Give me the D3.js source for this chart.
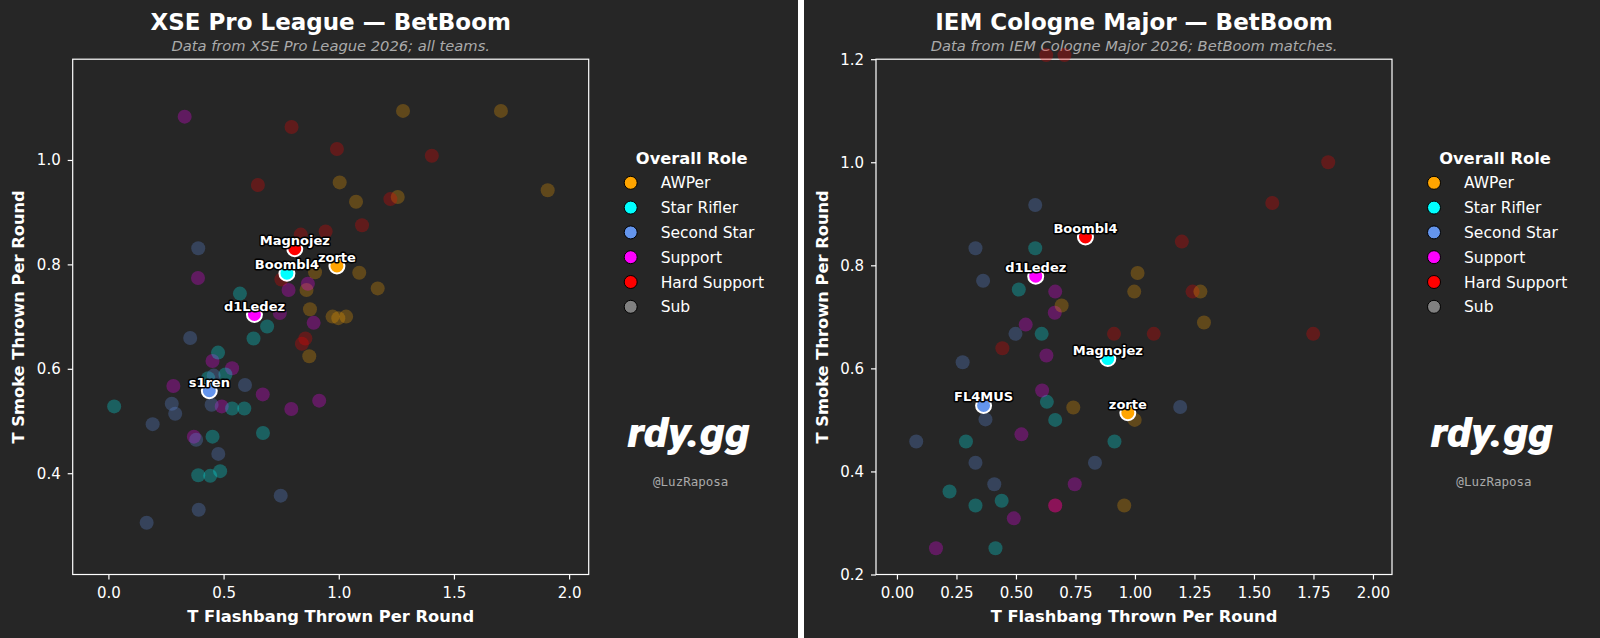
<!DOCTYPE html>
<html>
<head>
<meta charset="utf-8">
<script src="https://cdn.jsdelivr.net/npm/d3@7"></script>
<style>
  html, body { margin: 0; padding: 0; background: #262626; }
  svg { display: block; font-family: "DejaVu Sans", sans-serif; }
</style>
</head>
<body>
<svg id="chart" width="1600" height="638"></svg>
<script>
// Role legend
const roles = ['AWPer', 'Star Rifler', 'Second Star', 'Support', 'Hard Support', 'Sub'];
const roleColors = ['#FFA500', '#00FFFF', '#6495ED', '#FF00FF', '#FF0000', '#808080'];

// XSE Pro League - all players [role, flashbangs, smokes]
const xsePlayers = [
    ['AWPer', 1.279, 1.094], ['AWPer', 1.704, 1.094], ['AWPer', 1.004, 0.957], ['AWPer', 1.075, 0.920],
    ['AWPer', 1.256, 0.929], ['AWPer', 1.907, 0.942], ['AWPer', 0.897, 0.785], ['AWPer', 1.089, 0.784],
    ['AWPer', 0.860, 0.751], ['AWPer', 1.169, 0.754], ['AWPer', 0.875, 0.714], ['AWPer', 0.973, 0.700],
    ['AWPer', 0.998, 0.697], ['AWPer', 1.032, 0.700], ['AWPer', 0.872, 0.624],
    ['Hard Support', 0.795, 1.063], ['Hard Support', 0.992, 1.021], ['Hard Support', 1.404, 1.008],
    ['Hard Support', 0.649, 0.952], ['Hard Support', 1.224, 0.925], ['Hard Support', 1.101, 0.875],
    ['Hard Support', 0.943, 0.863], ['Hard Support', 0.835, 0.857], ['Hard Support', 0.751, 0.771],
    ['Hard Support', 0.840, 0.648], ['Hard Support', 0.855, 0.658],
    ['Support', 0.331, 1.083], ['Support', 0.389, 0.774], ['Support', 0.866, 0.763], ['Support', 0.782, 0.751],
    ['Support', 0.744, 0.707], ['Support', 0.891, 0.688], ['Support', 0.452, 0.615], ['Support', 0.537, 0.601],
    ['Support', 0.282, 0.567], ['Support', 0.670, 0.551], ['Support', 0.915, 0.539], ['Support', 0.794, 0.523],
    ['Support', 0.492, 0.528], ['Support', 0.371, 0.470],
    ['Star Rifler', 0.571, 0.744], ['Star Rifler', 0.689, 0.681], ['Star Rifler', 0.630, 0.658],
    ['Star Rifler', 0.476, 0.631], ['Star Rifler', 0.508, 0.589], ['Star Rifler', 0.433, 0.582],
    ['Star Rifler', 0.025, 0.528], ['Star Rifler', 0.537, 0.524], ['Star Rifler', 0.590, 0.524],
    ['Star Rifler', 0.452, 0.470], ['Star Rifler', 0.671, 0.477], ['Star Rifler', 0.390, 0.396],
    ['Star Rifler', 0.442, 0.395], ['Star Rifler', 0.485, 0.404],
    ['Second Star', 0.390, 0.831], ['Second Star', 0.355, 0.659], ['Second Star', 0.457, 0.587],
    ['Second Star', 0.593, 0.569], ['Second Star', 0.275, 0.533], ['Second Star', 0.290, 0.514],
    ['Second Star', 0.448, 0.531], ['Second Star', 0.192, 0.494], ['Second Star', 0.381, 0.464],
    ['Second Star', 0.477, 0.437], ['Second Star', 0.748, 0.357], ['Second Star', 0.392, 0.330],
    ['Second Star', 0.166, 0.305]
];

// XSE Pro League - BetBoom players [name, role, flashbangs, smokes]
const xseBetBoom = [
    ['Magnojez', 'Hard Support', 0.809, 0.830],
    ['Boombl4', 'Star Rifler', 0.775, 0.783],
    ['zorte', 'AWPer', 0.992, 0.797],
    ['d1Ledez', 'Support', 0.634, 0.704],
    ['s1ren', 'Second Star', 0.438, 0.558]
];

// IEM Cologne Major - players in BetBoom matches
const iemPlayers = [
    ['Hard Support', 0.627, 1.208], ['Hard Support', 0.704, 1.208], ['Hard Support', 1.577, 0.921],
    ['Hard Support', 1.812, 1.000], ['Hard Support', 1.197, 0.846], ['Hard Support', 1.242, 0.749],
    ['Hard Support', 0.912, 0.667], ['Hard Support', 1.079, 0.667], ['Hard Support', 1.749, 0.667],
    ['Hard Support', 0.443, 0.639], ['Hard Support', 0.665, 0.334],
    ['Second Star', 0.581, 0.917], ['Second Star', 0.330, 0.833], ['Second Star', 0.362, 0.770],
    ['Second Star', 0.498, 0.667], ['Second Star', 0.276, 0.612], ['Second Star', 1.190, 0.525],
    ['Second Star', 0.372, 0.501], ['Second Star', 0.081, 0.458], ['Second Star', 0.330, 0.417],
    ['Second Star', 0.832, 0.417], ['Second Star', 0.409, 0.375],
    ['Star Rifler', 0.581, 0.833], ['Star Rifler', 0.512, 0.753], ['Star Rifler', 0.608, 0.667],
    ['Star Rifler', 0.630, 0.535], ['Star Rifler', 0.665, 0.500], ['Star Rifler', 0.290, 0.458],
    ['Star Rifler', 0.914, 0.458], ['Star Rifler', 0.221, 0.361], ['Star Rifler', 0.330, 0.334],
    ['Star Rifler', 0.440, 0.343], ['Star Rifler', 0.414, 0.251],
    ['Support', 0.665, 0.749], ['Support', 0.663, 0.708], ['Support', 0.541, 0.685], ['Support', 0.628, 0.625],
    ['Support', 0.610, 0.557], ['Support', 0.523, 0.472], ['Support', 0.747, 0.375], ['Support', 0.491, 0.309],
    ['Support', 0.164, 0.251], ['Support', 0.665, 0.334],
    ['AWPer', 1.011, 0.785], ['AWPer', 0.997, 0.749], ['AWPer', 1.275, 0.749], ['AWPer', 0.692, 0.722],
    ['AWPer', 1.290, 0.689], ['AWPer', 0.741, 0.524], ['AWPer', 0.999, 0.500], ['AWPer', 0.955, 0.334]
];

const iemBetBoom = [
    ['Boombl4', 'Hard Support', 0.792, 0.855],
    ['d1Ledez', 'Support', 0.583, 0.779],
    ['Magnojez', 'Star Rifler', 0.886, 0.619],
    ['FL4MUS', 'Second Star', 0.364, 0.528],
    ['zorte', 'AWPer', 0.970, 0.514]
];

// Axis ticks
const xseXTicks = [0, 0.5, 1.0, 1.5, 2.0];
const xseYTicks = [0.4, 0.6, 0.8, 1.0];
const iemXTicks = [0, 0.25, 0.5, 0.75, 1.0, 1.25, 1.5, 1.75, 2.0];
const iemYTicks = [0.2, 0.4, 0.6, 0.8, 1.0, 1.2];

const color = d3.scaleOrdinal().domain(roles).range(roleColors);
const svg = d3.select('#chart');

svg.append('rect')
    .attr('width', 1600)
    .attr('height', 638)
    .attr('fill', '#262626');

const plotTop = 59.2;
const plotBottom = 574.5;

function drawPanel(opts) {
    const g = svg.append('g');
    const x = d3.scaleLinear().domain(opts.xDomain).range([opts.left, opts.left + 516]);
    const y = d3.scaleLinear().domain(opts.yDomain).range([plotBottom, plotTop]);
    const cx = opts.left + 258;

    // Titles
    g.append('text')
        .attr('x', cx).attr('y', 29.5)
        .attr('text-anchor', 'middle')
        .attr('font-size', '23px').attr('font-weight', 'bold')
        .attr('fill', 'white')
        .text(opts.title);

    g.append('text')
        .attr('x', cx).attr('y', 50.5)
        .attr('text-anchor', 'middle')
        .attr('font-size', '14.7px').attr('font-style', 'italic')
        .attr('fill', '#aaaaaa')
        .text(opts.subtitle);

    // Axes
    const xAxis = g.append('g')
        .attr('transform', `translate(0, ${plotBottom})`)
        .call(d3.axisBottom(x).tickValues(opts.xTicks).tickFormat(d3.format(opts.xFormat))
            .tickSize(5).tickPadding(8));

    const yAxis = g.append('g')
        .attr('transform', `translate(${opts.left}, 0)`)
        .call(d3.axisLeft(y).tickValues(opts.yTicks).tickFormat(d3.format('.1f'))
            .tickSize(5).tickPadding(7));

    [xAxis, yAxis].forEach(a => {
        a.select('.domain').remove();
        a.selectAll('line').attr('stroke', 'white').attr('stroke-width', 1.2);
        a.selectAll('text').attr('fill', 'white').attr('font-size', '15px')
            .attr('font-family', '"DejaVu Sans", sans-serif');
    });

    g.append('rect')
        .attr('x', opts.left).attr('y', plotTop)
        .attr('width', 516).attr('height', plotBottom - plotTop)
        .attr('fill', 'none')
        .attr('stroke', 'white')
        .attr('stroke-width', 1.2);

    // Axis labels
    g.append('text')
        .attr('x', cx).attr('y', 622)
        .attr('text-anchor', 'middle')
        .attr('font-size', '16.3px').attr('font-weight', 'bold')
        .attr('fill', 'white')
        .text('T Flashbang Thrown Per Round');

    g.append('text')
        .attr('transform', `translate(${opts.left - 48.5}, ${(plotTop + plotBottom) / 2}) rotate(-90)`)
        .attr('text-anchor', 'middle')
        .attr('font-size', '16.3px').attr('font-weight', 'bold')
        .attr('fill', 'white')
        .text('T Smoke Thrown Per Round');

    // All players, faded
    g.append('g').selectAll('circle')
        .data(opts.players)
        .enter()
        .append('circle')
        .attr('cx', d => x(d[1]))
        .attr('cy', d => y(d[2]))
        .attr('r', 7)
        .attr('fill', d => color(d[0]))
        .attr('fill-opacity', 0.27);

    // BetBoom players
    g.append('g').selectAll('circle')
        .data(opts.team)
        .enter()
        .append('circle')
        .attr('cx', d => x(d[2]))
        .attr('cy', d => y(d[3]))
        .attr('r', 7.5)
        .attr('fill', d => color(d[1]))
        .attr('stroke', 'white')
        .attr('stroke-width', 2);

    g.append('g').selectAll('text')
        .data(opts.team)
        .enter()
        .append('text')
        .attr('x', d => x(d[2]))
        .attr('y', d => y(d[3]) - 4)
        .attr('text-anchor', 'middle')
        .attr('font-size', '13px').attr('font-weight', 'bold')
        .attr('fill', 'white')
        .attr('stroke', 'black')
        .attr('stroke-width', 3)
        .attr('stroke-linejoin', 'round')
        .attr('paint-order', 'stroke')
        .text(d => d[0]);

    // Legend
    const lx = opts.left + 558;
    g.append('text')
        .attr('x', lx + 61).attr('y', 164)
        .attr('text-anchor', 'middle')
        .attr('font-size', '16.3px').attr('font-weight', 'bold')
        .attr('fill', 'white')
        .text('Overall Role');

    const items = g.append('g').selectAll('g')
        .data(roles)
        .enter()
        .append('g')
        .attr('transform', (d, i) => `translate(${lx}, ${182.8 + i * 24.8})`);

    items.append('circle')
        .attr('r', 6.5)
        .attr('fill', d => color(d))
        .attr('stroke', 'black')
        .attr('stroke-width', 1);

    items.append('text')
        .attr('x', 30).attr('y', 5.5)
        .attr('font-size', '15.5px')
        .attr('fill', 'white')
        .text(d => d);

    // Watermark
    g.append('text')
        .attr('x', lx - 3).attr('y', 447)
        .attr('font-family', 'Roboto, sans-serif')
        .attr('font-size', '40px').attr('font-weight', 900).attr('font-style', 'italic')
        .attr('textLength', 122).attr('lengthAdjust', 'spacingAndGlyphs')
        .attr('fill', 'white')
        .text('rdy.gg');

    g.append('text')
        .attr('x', lx + 60).attr('y', 486)
        .attr('text-anchor', 'middle')
        .attr('font-family', '"DejaVu Sans Mono", monospace')
        .attr('font-size', '12.5px')
        .attr('fill', '#aaaaaa')
        .text('@LuzRaposa');
}

drawPanel({
    left: 72.7,
    title: 'XSE Pro League \u2014 BetBoom',
    subtitle: 'Data from XSE Pro League 2026; all teams.',
    xDomain: [-0.155, 2.085],
    yDomain: [0.206, 1.193],
    xTicks: xseXTicks,
    xFormat: '.1f',
    yTicks: xseYTicks,
    players: xsePlayers,
    team: xseBetBoom
});

drawPanel({
    left: 876,
    title: 'IEM Cologne Major \u2014 BetBoom',
    subtitle: 'Data from IEM Cologne Major 2026; BetBoom matches.',
    xDomain: [-0.088, 2.08],
    yDomain: [0.2, 1.2],
    xTicks: iemXTicks,
    xFormat: '.2f',
    yTicks: iemYTicks,
    players: iemPlayers,
    team: iemBetBoom
});

// Divider between the two panels
svg.append('rect')
    .attr('x', 798).attr('y', 0)
    .attr('width', 6).attr('height', 638)
    .attr('fill', 'white');
</script>
</body>
</html>
